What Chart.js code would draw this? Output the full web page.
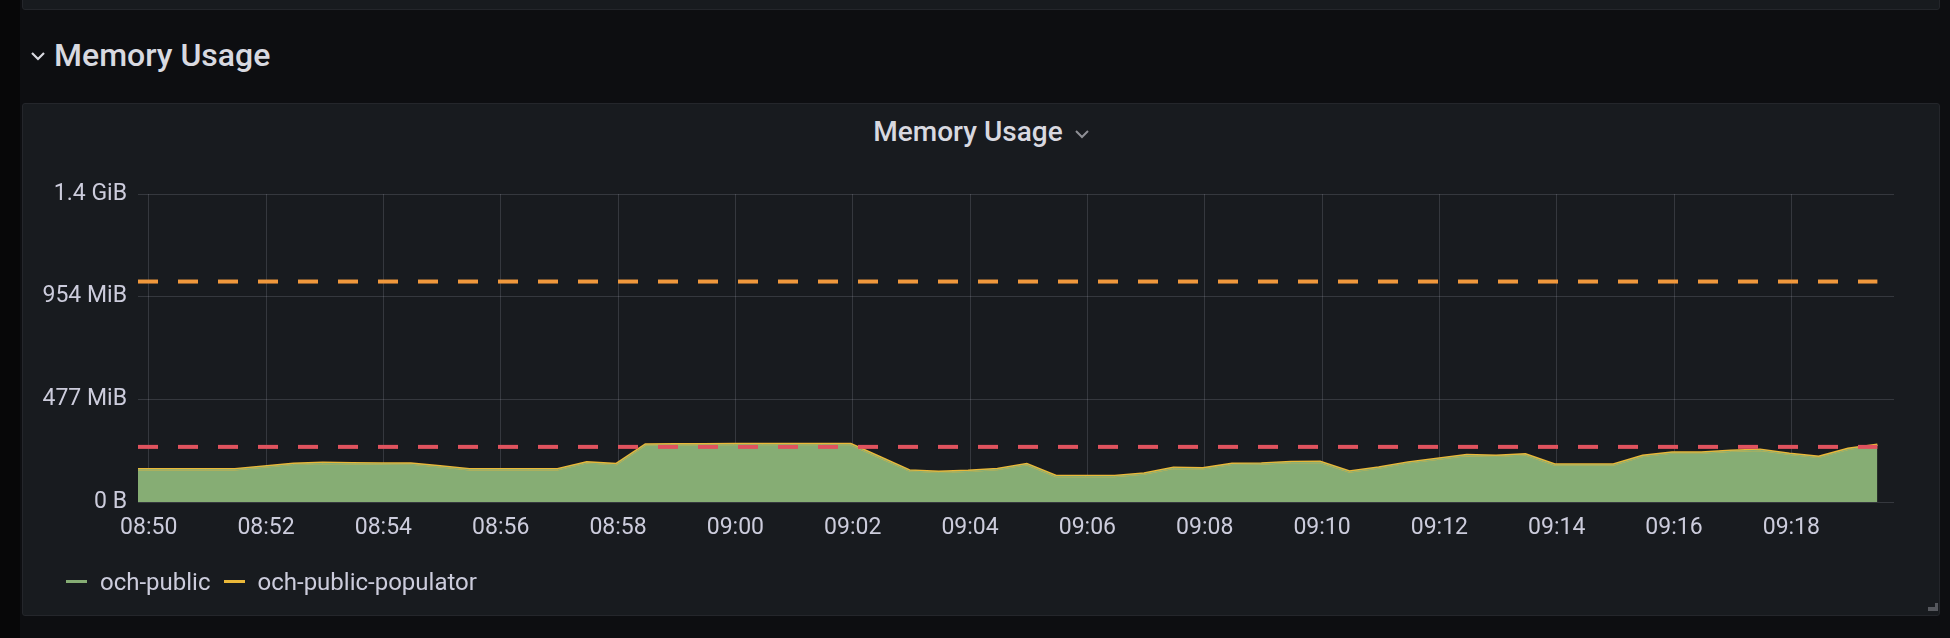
<!DOCTYPE html>
<html>
<head>
<meta charset="utf-8">
<script src="https://cdn.jsdelivr.net/npm/chart.js@4.4.1/dist/chart.umd.min.js"></script>
<style>
  html, body { margin: 0; padding: 0; }
  body { width: 1950px; height: 638px; overflow: hidden; background: #0d0e11; font-family: Roboto, "Noto Sans", sans-serif; position: relative; }
  .strip { position: absolute; left: 0; top: 0; width: 20px; height: 638px; background: #070708; }
  .prev { position: absolute; left: 22px; top: -10px; width: 1916px; height: 18px; background: #181b1f; border: 1px solid #24262b; border-radius: 3px; }
  .row { position: absolute; left: 54px; top: 33px; font-size: 32px; font-weight: 500; color: #d8d9e0; line-height: 44px; }
  .rowchev { position: absolute; left: 30px; top: 51px; }
  .panel { position: absolute; left: 22px; top: 103px; width: 1916px; height: 511px; background: #181b1f; border: 1px solid #24262b; border-radius: 3px; }
  .title { position: absolute; left: 22px; width: 1918px; top: 114px; text-align: center; font-size: 28px; font-weight: 500; color: #d8d9e0; line-height: 36px; }
  .title svg { margin-left: 12px; vertical-align: middle; }
  #wrap { position: absolute; left: 22px; top: 103px; width: 1918px; height: 513px; }
  .legend { position: absolute; left: 66px; top: 566px; font-size: 24px; color: #ccccdc; line-height: 32px; white-space: nowrap; }
  .legend span.item { display: inline-block; margin-right: 13px; }
  .legend i { display: inline-block; width: 21px; height: 3px; margin-right: 13px; vertical-align: middle; position: relative; top: -2px; }
  .handle { position: absolute; left: 1928px; top: 603px; width: 10px; height: 8px; }
  .handle:before { content: ""; position: absolute; right: 0; top: 0; width: 3px; height: 8px; background: #55575d; }
  .handle:after { content: ""; position: absolute; right: 0; bottom: 0; width: 10px; height: 4px; background: #55575d; }
</style>
</head>
<body>
<div class="strip"></div>
<div class="prev"></div>
<svg class="rowchev" width="16" height="10"><polyline points="2,2 8,8 14,2" fill="none" stroke="#d8d9e0" stroke-width="2.2"/></svg>
<div class="row">Memory Usage</div>
<div class="panel"></div>
<div class="title">Memory Usage<svg width="14" height="10"><polyline points="1,2 7,8 13,2" fill="none" stroke="#8e8f95" stroke-width="2"/></svg></div>
<div id="wrap"><canvas id="graph"></canvas></div>
<div class="legend" id="legend"></div>
<div class="handle"></div>
<script>
// sample times (every ~30s)
const times = [
  '08:49:49', '08:49:58', '08:50:28', '08:50:58', '08:51:28', '08:51:58', '08:52:28', '08:52:58',
  '08:53:28', '08:53:58', '08:54:28', '08:54:58', '08:55:28', '08:55:58', '08:56:28', '08:56:58',
  '08:57:28', '08:57:58', '08:58:28', '08:58:58', '08:59:28', '08:59:58', '09:00:28', '09:00:58',
  '09:01:28', '09:01:58', '09:02:28', '09:02:58', '09:03:28', '09:03:58', '09:04:28', '09:04:58',
  '09:05:28', '09:05:58', '09:06:28', '09:06:58', '09:07:28', '09:07:58', '09:08:28', '09:08:58',
  '09:09:28', '09:09:58', '09:10:28', '09:10:58', '09:11:28', '09:11:58', '09:12:28', '09:12:58',
  '09:13:28', '09:13:58', '09:14:28', '09:14:58', '09:15:28', '09:15:58', '09:16:28', '09:16:58',
  '09:17:28', '09:17:58', '09:18:28', '09:18:58', '09:19:28'
];
// memory in MB (1e6 bytes)
const ochPublic = [
  157, 157, 157, 157, 157, 170, 183, 188,
  186, 185, 184, 171, 157, 157, 157, 157,
  190, 182, 277, 278, 278, 279, 279, 279,
  279, 279, 215, 151, 144, 149, 158, 182,
  124, 124, 124, 136, 164, 161, 183, 185,
  192, 193, 146, 165, 190, 208, 226, 222,
  229, 180, 180, 180, 222, 238, 238, 247,
  252, 232, 217, 256, 276
];
const ochPublicPopulator = [
  3, 3, 3, 3, 3, 3, 3, 3, 3, 3, 3, 3, 3, 3, 3, 3,
  3, 3, 3, 3, 3, 3, 3, 3, 3, 3, 3, 3, 3, 3, 3, 3,
  3, 3, 3, 3, 3, 3, 3, 3, 3, 3, 3, 3, 3, 3, 3, 3,
  3, 3, 3, 3, 3, 3, 3, 3, 3, 3, 3, 3, 3
];
const memLimit = 1073.7;   // 1 GiB
const memRequest = 268.4;  // 256 MiB

const seriesNames = ['och-public', 'och-public-populator'];
const seriesColors = ['#86ad74', '#eab839'];

const xMin = '08:49:49';
const xMax = '09:19:45';
const xTickLabels = ['08:50', '08:52', '08:54', '08:56', '08:58', '09:00', '09:02', '09:04',
  '09:06', '09:08', '09:10', '09:12', '09:14', '09:16', '09:18'];
const yTickValues = [0, 500, 1000, 1500];
const yTickLabels = ['0 B', '477 MiB', '954 MiB', '1.4 GiB'];

function toSec(t) {
  const p = t.split(':').map(Number);
  return p[0] * 3600 + p[1] * 60 + (p[2] || 0);
}
const xTickValues = xTickLabels.map(toSec);
const pts = arr => arr.map((v, i) => ({ x: toSec(times[i]), y: v }));
const flat = v => [{ x: toSec(times[0]), y: v }, { x: toSec(times[times.length - 1]), y: v }];

const gridColor = 'rgba(204,204,220,0.17)';
const tickFont = { family: 'Roboto', size: 23 };

new Chart(document.getElementById('graph'), {
  type: 'line',
  data: {
    datasets: [
      { label: seriesNames[0], data: pts(ochPublic), stack: 'mem', order: 0,
        borderColor: seriesColors[0], backgroundColor: seriesColors[0], borderWidth: 1,
        fill: 'origin', pointRadius: 0, tension: 0 },
      { label: seriesNames[1], data: pts(ochPublicPopulator), stack: 'mem', order: 1,
        borderColor: seriesColors[1], borderWidth: 2.5, fill: false, pointRadius: 0, tension: 0 },
      { label: 'limit', data: flat(memLimit), stack: 'limit', order: -1,
        borderColor: '#f0983c', borderWidth: 4, borderDash: [20, 20], fill: false, pointRadius: 0 },
      { label: 'request', data: flat(memRequest), stack: 'request', order: -2,
        borderColor: '#e0535e', borderWidth: 4, borderDash: [20, 20], fill: false, pointRadius: 0 }
    ]
  },
  options: {
    responsive: true,
    maintainAspectRatio: false,
    animation: false,
    layout: { padding: { top: 91, right: 46, bottom: 54, left: 0 } },
    plugins: {
      legend: { display: false },
      tooltip: { enabled: false },
      filler: { drawTime: 'beforeDatasetsDraw' }
    },
    scales: {
      x: {
        type: 'linear',
        min: toSec(xMin),
        max: toSec(xMax),
        grid: { color: gridColor, drawTicks: false },
        border: { display: false },
        afterBuildTicks: s => { s.ticks = xTickValues.map(v => ({ value: v })); },
        afterFit: s => { s.height = 60; },
        ticks: {
          color: '#ccccdc', font: tickFont, padding: 12, maxRotation: 0, autoSkip: false,
          callback: v => xTickLabels[xTickValues.indexOf(v)]
        }
      },
      y: {
        stacked: true,
        min: 0,
        max: 1500,
        grid: { color: gridColor, drawTicks: false },
        border: { display: false },
        afterBuildTicks: s => { s.ticks = yTickValues.map(v => ({ value: v })); },
        afterFit: s => { s.width = 116; },
        ticks: {
          color: '#ccccdc', font: tickFont, padding: 11,
          callback: v => yTickLabels[yTickValues.indexOf(v)]
        }
      }
    }
  }
});

document.getElementById('legend').innerHTML = seriesNames
  .map((n, i) => `<span class="item"><i style="background:${seriesColors[i]}"></i>${n}</span>`)
  .join('');
</script>
</body>
</html>
